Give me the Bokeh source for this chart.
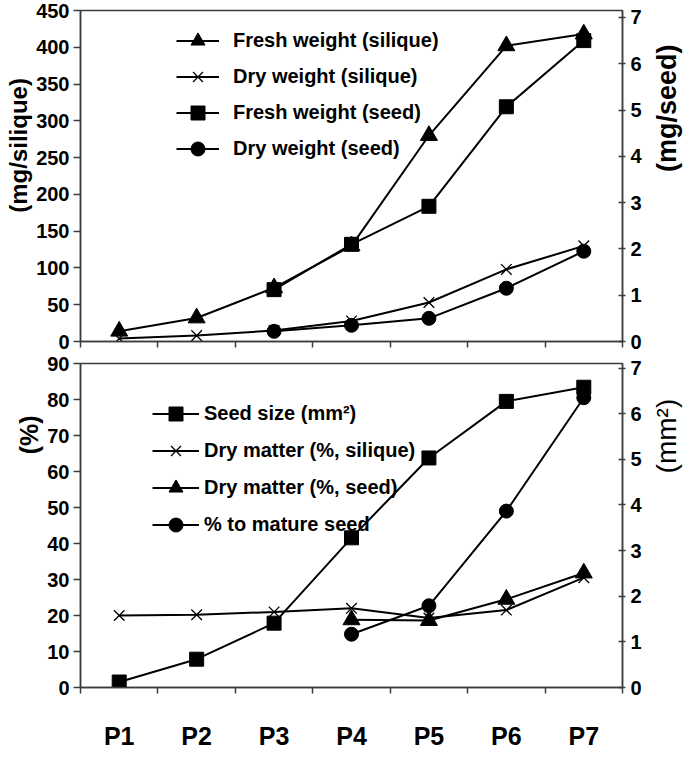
import numpy as np
from bokeh.plotting import figure
from bokeh.models import Range1d, LinearAxis, FixedTicker, Legend, LegendItem, Title, Label
from bokeh.layouts import column, row
from bokeh.embed import file_html
from bokeh.resources import INLINE

NA = float("nan")

# ---------------- data ----------------
categories = ["P1", "P2", "P3", "P4", "P5", "P6", "P7"]

# top panel
fresh_weight_silique = [14, 32, 73, 130, 280, 402, 418]        # mg/silique (left axis)
dry_weight_silique = [4, 8, 15, 28, 53, 98, 130]               # mg/silique (left axis)
fresh_weight_seed = [NA, NA, 1.12, 2.10, 2.92, 5.07, 6.50]     # mg/seed (right axis)
dry_weight_seed = [NA, NA, 0.22, 0.35, 0.50, 1.15, 1.95]       # mg/seed (right axis)
top_left_ticks = [0, 50, 100, 150, 200, 250, 300, 350, 400, 450]
top_right_ticks = [0, 1, 2, 3, 4, 5, 6, 7]

# bottom panel
seed_size = [0.12, 0.62, 1.41, 3.28, 5.03, 6.27, 6.58]          # mm2 (right axis)
dry_matter_silique = [20, 20.2, 21, 22, 19.3, 21.5, 30.5]      # % (left axis)
dry_matter_seed = [NA, NA, NA, 18.8, 18.6, 24.5, 31.8]         # % (left axis)
pct_mature_seed = [NA, NA, NA, 14.8, 22.7, 49, 80.5]           # % (left axis)
bottom_left_ticks = [0, 10, 20, 30, 40, 50, 60, 70, 80, 90]
bottom_right_ticks = [0, 1, 2, 3, 4, 5, 6, 7]

# ---------------- style ----------------
FONT = "Liberation Sans"
AX = "#3c3c3c"
W = 648
SIDE_W = 36
BL, BR = 80, 26
FRAME_H = 331
VS = FRAME_H / 342.0
TOP_H = 10 + FRAME_H + 10
BOT_H = 12 + FRAME_H + 58

n = len(categories)
x = [i + 0.5 for i in range(n)]
boundaries = list(range(n + 1))


def style_axis(ax):
    ax.axis_line_color = AX
    ax.axis_line_width = 1.5
    ax.major_tick_line_color = AX
    ax.major_tick_line_width = 1.5
    ax.minor_tick_line_color = AX
    ax.minor_tick_line_width = 1.5
    ax.major_label_text_font = FONT
    ax.major_label_text_font_style = "bold"
    ax.major_label_text_font_size = "20px"
    ax.major_label_text_color = "black"


def make_fig(height, ymax, ymax_r, bt, bb):
    p = figure(width=W, height=height, x_range=Range1d(0, n), y_range=Range1d(0, ymax),
               output_backend="svg", toolbar_location=None,
               min_border_left=BL, min_border_right=BR, min_border_top=bt, min_border_bottom=bb)
    p.xgrid.visible = False
    p.ygrid.visible = False
    p.outline_line_color = AX
    p.outline_line_width = 1.5
    p.extra_y_ranges = {"r": Range1d(0, ymax_r)}
    return p


def series(p, ys, marker, size, rng="default"):
    lr = p.line(x, ys, line_color="black", line_width=2, y_range_name=rng)
    if marker == "x":
        sr = p.scatter(x, ys, marker="x", size=size, line_color="black", line_width=1.3,
                       y_range_name=rng)
    else:
        sr = p.scatter(x, ys, marker=marker, size=size, fill_color="black", line_color="black",
                       y_range_name=rng)
    return [lr, sr]


def make_legend(items, loc, gw, gh, sp, standoff):
    return Legend(items=[LegendItem(label=l, renderers=r) for l, r in items],
                  location=loc, orientation="vertical", glyph_width=gw, glyph_height=gh,
                  spacing=sp, padding=0, margin=0, border_line_color=None,
                  background_fill_alpha=0, label_text_font=FONT, label_text_font_style="bold",
                  label_text_font_size="20px", label_text_color="black",
                  label_standoff=standoff, label_height=gh)


def left_axis(ax, ticks):
    ax.ticker = FixedTicker(ticks=ticks)
    style_axis(ax)
    ax.major_tick_out = 7
    ax.major_tick_in = 0
    ax.minor_tick_out = 0
    ax.major_label_standoff = 4


def left_title(p, text, bottom_offset, size="25px"):
    t = Title(text=text, align="left", offset=bottom_offset, standoff=4,
              text_font=FONT, text_font_style="bold", text_font_size=size,
              text_color="black")
    p.add_layout(t, "left")


def right_axis(ticks):
    ax = LinearAxis(y_range_name="r", ticker=FixedTicker(ticks=ticks))
    style_axis(ax)
    ax.major_tick_out = 3
    ax.major_tick_in = 4
    ax.minor_tick_out = 0
    ax.major_label_standoff = 5
    return ax


def side_strip(height, text, y_from_bottom, size, style):
    s = figure(width=SIDE_W, height=height, x_range=Range1d(0, 1), y_range=Range1d(0, 1),
               output_backend="svg", toolbar_location=None, x_axis_type=None, y_axis_type=None,
               min_border=0)
    s.xgrid.visible = False
    s.ygrid.visible = False
    s.outline_line_color = None
    s.add_layout(Label(x=SIDE_W / 2, y=y_from_bottom, x_units="screen", y_units="screen",
                       text=text, angle=np.pi / 2, text_align="center", text_baseline="middle",
                       text_font=FONT, text_font_style=style, text_font_size=size,
                       text_color="black"))
    return s


# ---------------- top panel ----------------
top = make_fig(TOP_H, 450, 7.15, 10, 10)
left_axis(top.yaxis[0], top_left_ticks)
top.add_layout(right_axis(top_right_ticks), "right")
left_title(top, "(mg/silique)", 133 * VS, size="24px")

xa = top.xaxis[0]
xa.ticker = FixedTicker(ticks=[], minor_ticks=boundaries)
style_axis(xa)
xa.minor_tick_out = 6
xa.minor_tick_in = 0
xa.major_tick_out = 0
xa.major_tick_in = 0

r_fws = series(top, fresh_weight_seed, "square", 14, "r")
r_dws = series(top, dry_weight_seed, "circle", 14, "r")
r_dwsi = series(top, dry_weight_silique, "x", 15)
r_fwsi = series(top, fresh_weight_silique, "triangle", 17)

top.add_layout(make_legend([
    ("Fresh weight (silique)", r_fwsi),
    ("Dry weight (silique)", r_dwsi),
    ("Fresh weight (seed)", r_fws),
    ("Dry weight (seed)", r_dws),
], (96, FRAME_H - 13 - (4 * 35 + 3 * 1)), 43, 35, 1, 14))

# ---------------- bottom panel ----------------
bot = make_fig(BOT_H, 90, 7.1, 12, 58)
left_axis(bot.yaxis[0], bottom_left_ticks)
bot.add_layout(right_axis(bottom_right_ticks), "right")
left_title(bot, "(%)", 241 * VS)

bx = bot.xaxis[0]
bx.ticker = FixedTicker(ticks=x, minor_ticks=boundaries)
style_axis(bx)
bx.major_label_overrides = {xv: c for xv, c in zip(x, categories)}
bx.major_label_text_font_size = "25px"
bx.major_tick_out = 0
bx.major_tick_in = 0
bx.minor_tick_out = 6
bx.minor_tick_in = 0
bx.major_label_standoff = 28

r_ss = series(bot, seed_size, "square", 14, "r")
r_dmsi = series(bot, dry_matter_silique, "x", 15)
r_dms = series(bot, dry_matter_seed, "triangle", 17)
r_pm = series(bot, pct_mature_seed, "circle", 14)

bot.add_layout(make_legend([
    ("Seed size (mm²)", r_ss),
    ("Dry matter (%, silique)", r_dmsi),
    ("Dry matter (%, seed)", r_dms),
    ("% to mature seed", r_pm),
], (72, FRAME_H - 19 - (4 * 35 + 3 * 2) - 21), 47, 35, 2, 5))

# ---------------- right-hand axis titles ----------------
top_side = side_strip(TOP_H, "(mg/seed)", 10 + (351 - 110) * VS, "27px", "bold")
bot_side = side_strip(BOT_H, "(mm²)", 58 + (718 - 451) * VS, "28px", "normal")

layout = row(column(top, bot, spacing=0), column(top_side, bot_side, spacing=0), spacing=0)
open("out.html", "w").write(file_html(layout, INLINE))
